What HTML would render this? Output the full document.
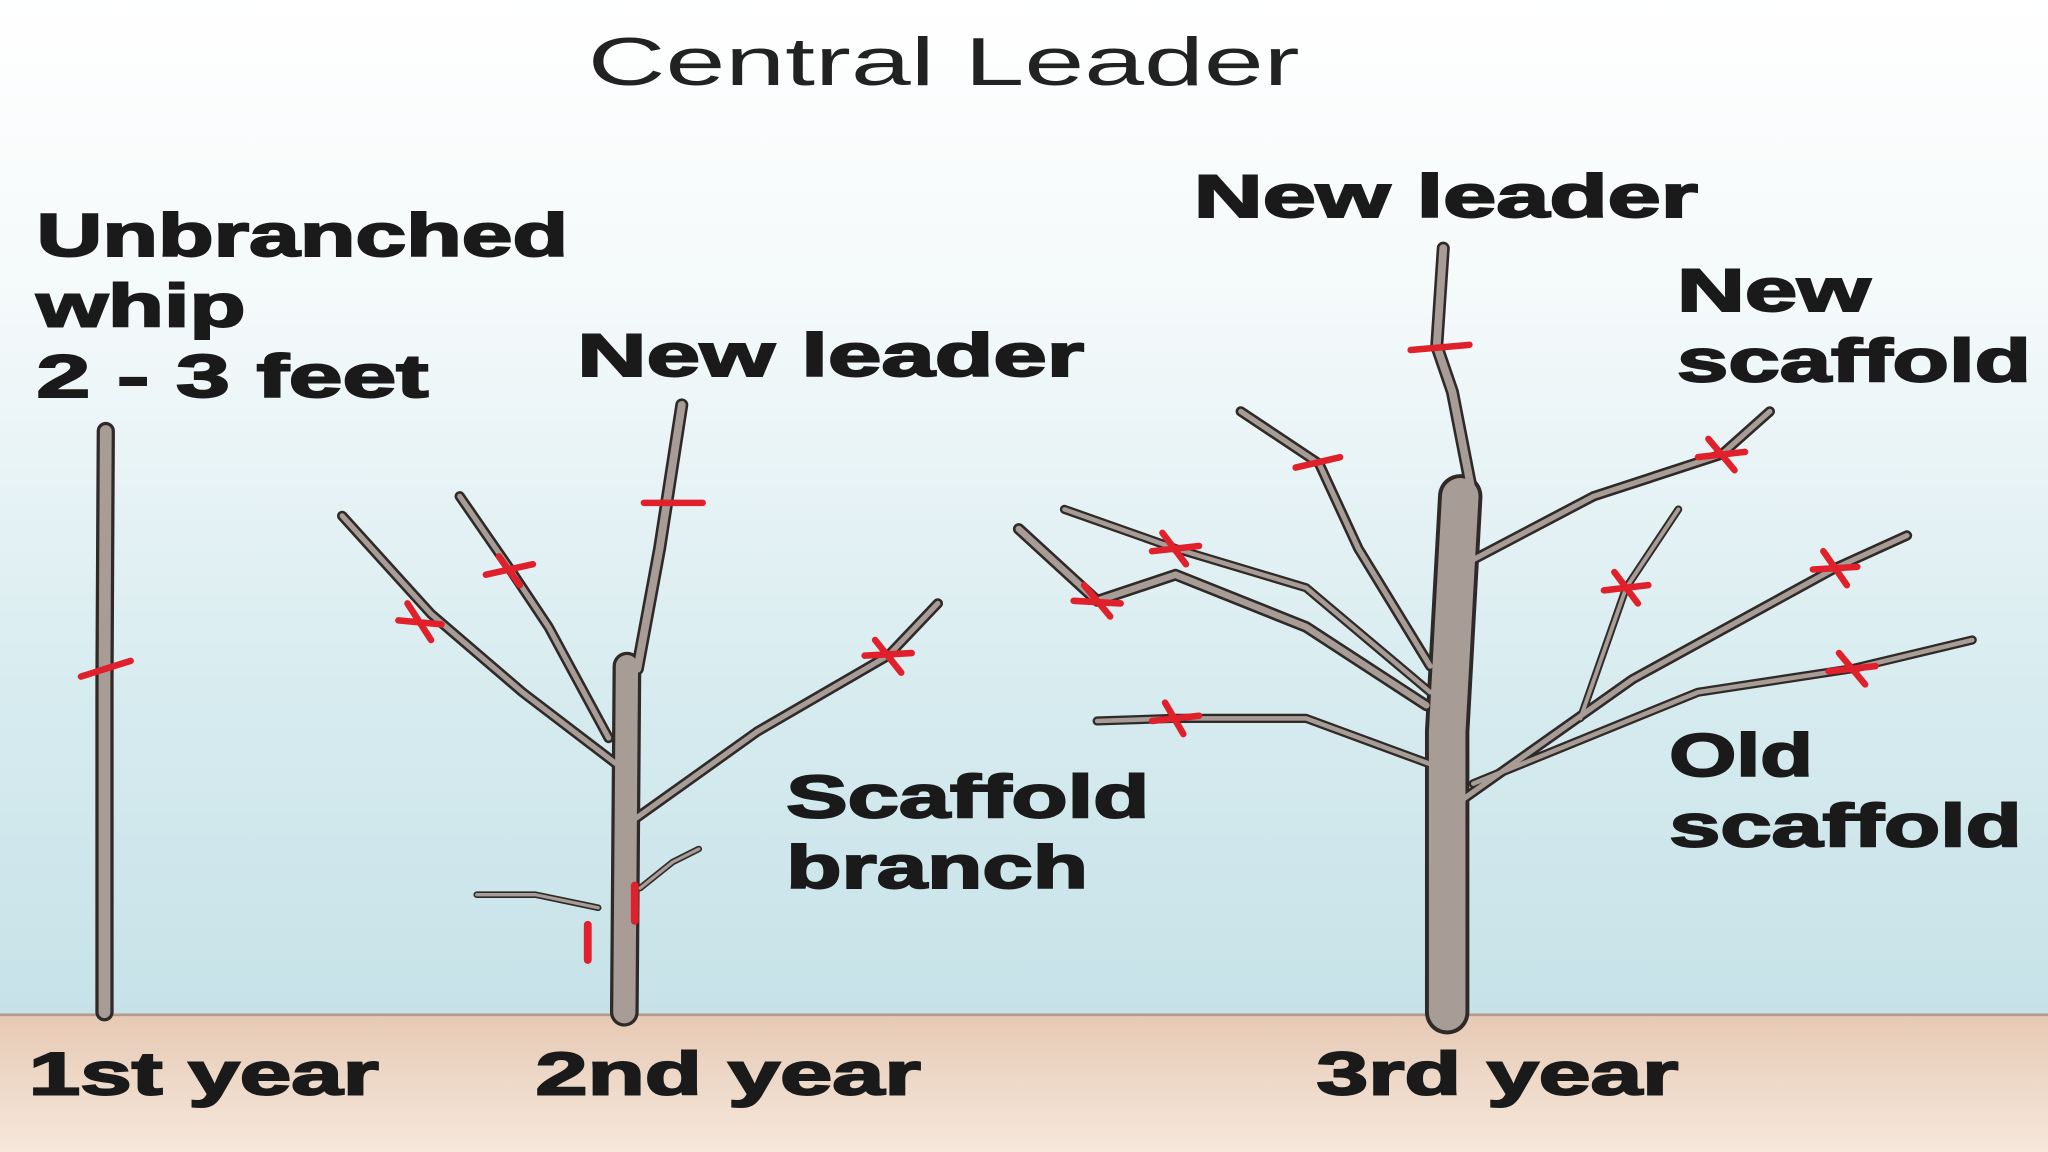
<!DOCTYPE html>
<html><head><meta charset="utf-8"><style>
html,body{margin:0;padding:0;width:2048px;height:1152px;overflow:hidden;background:#fff}
svg{display:block}
text{font-family:"Liberation Sans",Arial,sans-serif;fill:#1a1a1a}
.b{font-weight:bold;font-size:46px;stroke:#1a1a1a;stroke-width:1.5px}
</style></head><body>
<svg width="2048" height="1152" viewBox="0 0 1568 882" preserveAspectRatio="none">
<defs>
<linearGradient id="sky" x1="0" y1="0" x2="0" y2="1">
<stop offset="0" stop-color="#ffffff"/>
<stop offset="0.3" stop-color="#f4f9fa"/>
<stop offset="0.7" stop-color="#d6ebef"/>
<stop offset="1" stop-color="#c6e2e8"/>
</linearGradient>
<linearGradient id="ground" x1="0" y1="0" x2="0" y2="1">
<stop offset="0" stop-color="#e6c9b4"/>
<stop offset="1" stop-color="#f6e8dc"/>
</linearGradient>
</defs>
<rect x="0" y="0" width="1568" height="778" fill="url(#sky)"/>
<rect x="0" y="776" width="1568" height="106" fill="url(#ground)"/>
<line x1="0" y1="777" x2="1568" y2="777" stroke="#b59a88" stroke-width="2"/>

<text x="450" y="65" font-size="52" textLength="545" lengthAdjust="spacingAndGlyphs" style="fill:#222">Central Leader</text>

<g stroke-linecap="round" stroke-linejoin="round" fill="none">
<g stroke="#2f2a28">
<path d="M80 775 L80 520 L81 330" stroke-width="14"/>
<path d="M478 775 L480 510" stroke-width="22"/>
<path d="M488 512 L505 420 L522 310" stroke-width="10"/>
<path d="M472 585 L400 530 L330 470 L262 395" stroke-width="8"/>
<path d="M466 565 L420 480 L390 435 L352 380" stroke-width="8"/>
<path d="M482 630 L580 560 L680 502 L718 462" stroke-width="8"/>
<path d="M458 695 L410 685 L365 685" stroke-width="5"/>
<path d="M490 680 L515 660 L535 650" stroke-width="5"/>
<path d="M1108 775 L1108 560 L1118 380" stroke-width="34"/>
<path d="M1128 382 L1112 300 L1100 265 L1105 190" stroke-width="10"/>
<path d="M1092 540 L1000 480 L900 440 L840 460 L780 405" stroke-width="9"/>
<path d="M1095 510 L1040 420 L1010 355 L950 315" stroke-width="8"/>
<path d="M1095 530 L1000 450 L900 420 L815 390" stroke-width="7"/>
<path d="M1095 585 L1000 550 L900 550 L840 552" stroke-width="7"/>
<path d="M1125 430 L1220 380 L1318 348 L1355 315" stroke-width="8"/>
<path d="M1120 612 L1250 520 L1405 435 L1460 410" stroke-width="8"/>
<path d="M1128 600 L1300 530 L1418 512 L1510 490" stroke-width="7"/>
<path d="M1210 550 L1245 450 L1285 390" stroke-width="6"/>
</g>
<g stroke="#a79d96">
<path d="M80 775 L80 520 L81 330" stroke-width="9"/>
<path d="M478 775 L480 510" stroke-width="17"/>
<path d="M488 512 L505 420 L522 310" stroke-width="6"/>
<path d="M472 585 L400 530 L330 470 L262 395" stroke-width="4"/>
<path d="M466 565 L420 480 L390 435 L352 380" stroke-width="4"/>
<path d="M482 630 L580 560 L680 502 L718 462" stroke-width="4"/>
<path d="M458 695 L410 685 L365 685" stroke-width="2.5"/>
<path d="M490 680 L515 660 L535 650" stroke-width="2.5"/>
<path d="M1108 775 L1108 560 L1118 380" stroke-width="28"/>
<path d="M1128 382 L1112 300 L1100 265 L1105 190" stroke-width="6"/>
<path d="M1092 540 L1000 480 L900 440 L840 460 L780 405" stroke-width="5"/>
<path d="M1095 510 L1040 420 L1010 355 L950 315" stroke-width="4"/>
<path d="M1095 530 L1000 450 L900 420 L815 390" stroke-width="3.5"/>
<path d="M1095 585 L1000 550 L900 550 L840 552" stroke-width="3.5"/>
<path d="M1125 430 L1220 380 L1318 348 L1355 315" stroke-width="4"/>
<path d="M1120 612 L1250 520 L1405 435 L1460 410" stroke-width="4"/>
<path d="M1128 600 L1300 530 L1418 512 L1510 490" stroke-width="3.5"/>
<path d="M1210 550 L1245 450 L1285 390" stroke-width="3"/>
</g>
<g stroke="#e0202a" stroke-width="5">
<path d="M62 518 L100 506"/>
<path d="M305 475 L338 478 M312 462 L330 490"/>
<path d="M372 440 L408 432 M382 426 L398 448"/>
<path d="M493 385 L538 385"/>
<path d="M662 502 L698 500 M670 490 L690 515"/>
<path d="M450 708 L450 735 M486 678 L486 705" stroke-width="6"/>
<path d="M1080 268 L1125 264"/>
<path d="M992 358 L1026 350"/>
<path d="M882 422 L918 418 M890 408 L908 432"/>
<path d="M822 460 L858 462 M830 448 L850 472"/>
<path d="M882 552 L918 548 M892 538 L906 562"/>
<path d="M1300 350 L1336 346 M1308 336 L1328 360"/>
<path d="M1228 452 L1262 448 M1236 438 L1254 462"/>
<path d="M1388 436 L1422 434 M1396 422 L1414 448"/>
<path d="M1400 514 L1436 510 M1408 500 L1428 524"/>
</g>
</g>

<text class="b" x="28" y="196" textLength="407" lengthAdjust="spacingAndGlyphs">Unbranched</text>
<text class="b" x="28" y="250" textLength="160" lengthAdjust="spacingAndGlyphs">whip</text>
<text class="b" x="28" y="304" textLength="300" lengthAdjust="spacingAndGlyphs">2 - 3 feet</text>
<text class="b" x="442" y="288" textLength="388" lengthAdjust="spacingAndGlyphs">New leader</text>
<text class="b" x="602" y="626" textLength="278" lengthAdjust="spacingAndGlyphs">Scaffold</text>
<text class="b" x="602" y="680" textLength="231" lengthAdjust="spacingAndGlyphs">branch</text>
<text class="b" x="914" y="166" textLength="386" lengthAdjust="spacingAndGlyphs">New leader</text>
<text class="b" x="1284" y="238" textLength="148" lengthAdjust="spacingAndGlyphs">New</text>
<text class="b" x="1284" y="292" textLength="271" lengthAdjust="spacingAndGlyphs">scaffold</text>
<text class="b" x="1278" y="594" textLength="110" lengthAdjust="spacingAndGlyphs">Old</text>
<text class="b" x="1278" y="648" textLength="270" lengthAdjust="spacingAndGlyphs">scaffold</text>
<text class="b" x="22" y="838" textLength="268" lengthAdjust="spacingAndGlyphs">1st year</text>
<text class="b" x="410" y="838" textLength="295" lengthAdjust="spacingAndGlyphs">2nd year</text>
<text class="b" x="1008" y="838" textLength="277" lengthAdjust="spacingAndGlyphs">3rd year</text>
</svg>
</body></html>
